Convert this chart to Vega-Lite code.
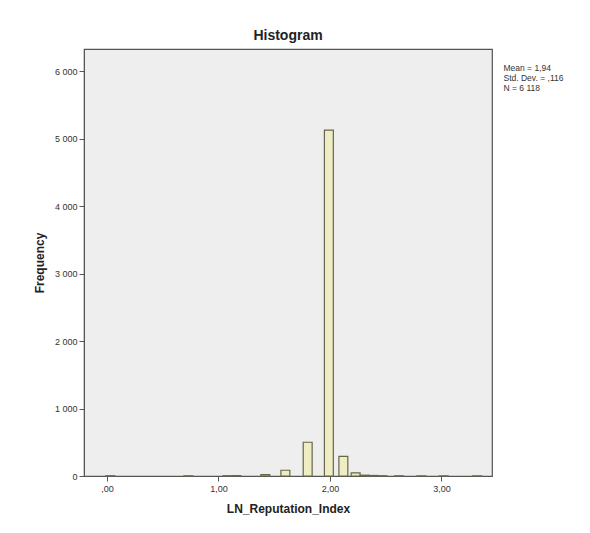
{
  "$schema": "https://vega.github.io/schema/vega-lite/v6.json",
  "autosize": {"type": "none"},
  "padding": {"left": 84, "top": 49, "right": 98, "bottom": 57},
  "width": 408,
  "height": 427,
  "background": "white",
  "view": {"fill": "#EEEEEE", "stroke": "#555555", "strokeWidth": 1.2},
  "title": {"text": "Histogram", "font": "Liberation Sans", "fontSize": 14, "fontWeight": "bold", "color": "#222", "offset": 6, "anchor": "middle"},
  "config": {
    "axis": {"labelFont": "Liberation Sans", "titleFont": "Liberation Sans", "labelFontSize": 9, "labelColor": "#333", "titleColor": "#222", "titleFontSize": 12, "titleFontWeight": "bold", "grid": false, "domainColor": "#555", "tickColor": "#555", "tickSize": 5}
  },
  "layer": [
    {
      "data": {"values": [
        {"start": -0.01, "end": 0.07, "count": 4},
        {"start": 0.69, "end": 0.77, "count": 3},
        {"start": 1.04, "end": 1.12, "count": 4},
        {"start": 1.12, "end": 1.20, "count": 6},
        {"start": 1.38, "end": 1.46, "count": 20},
        {"start": 1.56, "end": 1.64, "count": 85},
        {"start": 1.76, "end": 1.84, "count": 500},
        {"start": 1.95, "end": 2.03, "count": 5128},
        {"start": 2.08, "end": 2.16, "count": 290},
        {"start": 2.19, "end": 2.27, "count": 45},
        {"start": 2.27, "end": 2.35, "count": 12},
        {"start": 2.35, "end": 2.43, "count": 8},
        {"start": 2.43, "end": 2.51, "count": 4},
        {"start": 2.58, "end": 2.66, "count": 3},
        {"start": 2.78, "end": 2.86, "count": 2},
        {"start": 2.98, "end": 3.06, "count": 2},
        {"start": 3.28, "end": 3.36, "count": 2}
      ]},
      "mark": {"type": "bar", "fill": "#EEEDC4", "stroke": "#66664A", "strokeWidth": 1.2},
      "encoding": {
        "x": {"field": "start", "type": "quantitative", "scale": {"domain": [-0.206, 3.453], "nice": false, "zero": false},
          "axis": {"values": [0, 1, 2, 3], "labelExpr": "datum.value == 0 ? ',00' : replace(format(datum.value, '.2f'), '.', ',')", "title": "LN_Reputation_Index", "labelPadding": 3, "titlePadding": 10}},
        "x2": {"field": "end"},
        "y": {"field": "count", "type": "quantitative", "scale": {"domain": [0, 6330], "nice": false},
          "axis": {"values": [0, 1000, 2000, 3000, 4000, 5000, 6000], "labelExpr": "replace(format(datum.value, ','), ',', ' ')", "title": "Frequency", "labelPadding": 2, "titlePadding": 8}},
        "y2": {"datum": 0}
      }
    },
    {
      "data": {"values": [
        {"stat": "Mean = 1,94"},
        {"stat": "Std. Dev. = ,116"},
        {"stat": "N = 6 118"}
      ]},
      "mark": {"type": "point", "opacity": 0},
      "encoding": {
        "color": {"field": "stat", "type": "nominal",
          "scale": {"domain": ["Mean = 1,94", "Std. Dev. = ,116", "N = 6 118"], "range": ["#000", "#000", "#000"]},
          "legend": {"title": null, "orient": "right", "offset": -10, "padding": 15, "symbolOpacity": 0, "symbolSize": 0, "symbolStrokeWidth": 0, "labelOffset": -2, "labelFont": "Liberation Sans", "labelFontSize": 8.5, "labelColor": "#333", "rowPadding": 1, "labelLimit": 200}}
      }
    }
  ]
}
